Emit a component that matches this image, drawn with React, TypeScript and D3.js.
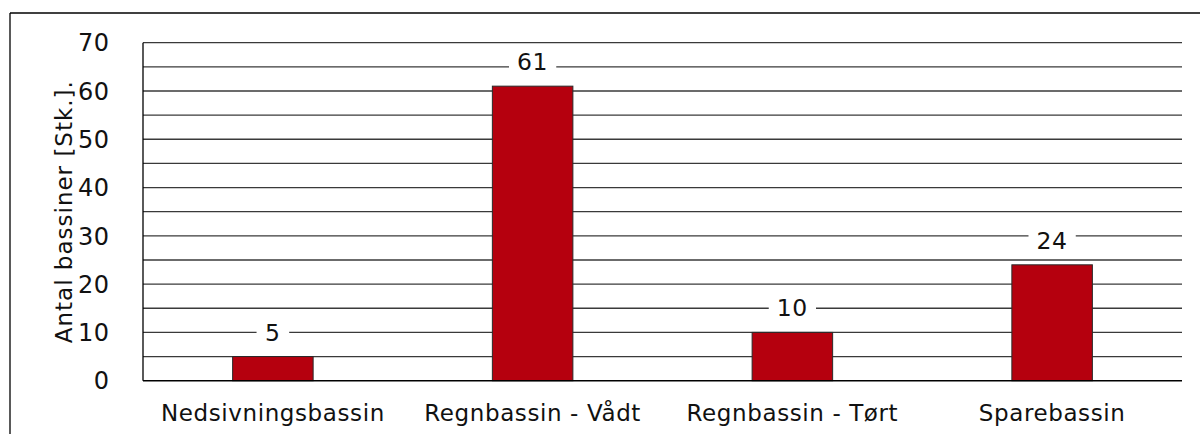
import React from "react";
import * as d3 from "d3";

const categories = ["Nedsivningsbassin", "Regnbassin - Vådt", "Regnbassin - Tørt", "Sparebassin"];
const values = [5, 61, 10, 24];
const tickLabels = [0, 10, 20, 30, 40, 50, 60, 70];
const gridValues = [5, 10, 15, 20, 25, 30, 35, 40, 45, 50, 55, 60, 65, 70];
const yTitle = "Antal bassiner [Stk.].";

const W = 1200;
const H = 434;
const left = 143;
const right = 1182;
const top = 42.7;
const bottom = 380.7;
const FONT = "'DejaVu Sans', Verdana, sans-serif";
const FS = 23;
const LS = 0.6;

export default function App() {
  const x = d3.scaleBand<string>().domain(categories).range([left, right]).paddingInner(0.69).paddingOuter(0.345);
  const y = d3.scaleLinear().domain([0, 70]).range([bottom, top]);
  const digitW = FS * 0.636;

  return (
    <svg width={W} height={H} style={{ position: "absolute", left: 0, top: 0, background: "#fff" }}>
      <rect x={0} y={0} width={W} height={H} fill="#fff" />
      {/* outer frame */}
      <line x1={10} y1={13} x2={1200} y2={13} stroke="#000" strokeWidth={1.3} />
      <line x1={10} y1={13} x2={10} y2={H} stroke="#000" strokeWidth={1.3} />
      {/* gridlines */}
      {gridValues.map((v) => (
        <line key={v} x1={left} x2={right} y1={y(v)} y2={y(v)} stroke="#3a3a3a" strokeWidth={1.3} />
      ))}
      {/* bars */}
      {categories.map((c, i) => (
        <rect
          key={c}
          x={x(c)}
          y={y(values[i])}
          width={x.bandwidth()}
          height={y(0) - y(values[i])}
          fill="#B5000E"
          stroke="#2a2a2a"
          strokeWidth={1}
        />
      ))}
      {/* axes */}
      <line x1={left} x2={right} y1={y(0)} y2={y(0)} stroke="#000" strokeWidth={1.5} />
      <line x1={left} x2={left} y1={y(70)} y2={y(0)} stroke="#000" strokeWidth={1.3} />
      {/* value labels */}
      {categories.map((c, i) => {
        const cx = (x(c) as number) + x.bandwidth() / 2;
        const cy = y(values[i]) - 24.5;
        const txt = String(values[i]);
        const bw = txt.length * digitW + 18;
        return (
          <g key={c}>
            <rect x={cx - bw / 2} y={cy - 16} width={bw} height={32} fill="#fff" />
            <text x={cx} y={cy + 8.5} textAnchor="middle" fontFamily={FONT} fontSize={23.5} fill="#111" letterSpacing={LS}>
              {txt}
            </text>
          </g>
        );
      })}
      {/* y ticks */}
      {tickLabels.map((t) => (
        <text key={t} x={109.5} y={y(t) + 8.7} textAnchor="end" fontFamily={FONT} fontSize={24} fill="#111" letterSpacing={0.5}>
          {t}
        </text>
      ))}
      {/* x labels */}
      {categories.map((c) => (
        <text
          key={c}
          x={(x(c) as number) + x.bandwidth() / 2}
          y={420.7}
          textAnchor="middle"
          fontFamily={FONT}
          fontSize={FS}
          fill="#111"
          letterSpacing={LS}
        >
          {c}
        </text>
      ))}
      {/* y title */}
      <text
        transform={`translate(71.5, ${(top + bottom) / 2}) rotate(-90)`}
        textAnchor="middle"
        fontFamily={FONT}
        fontSize={FS}
        fill="#111"
        letterSpacing={1}
      >
        {yTitle}
      </text>
    </svg>
  );
}
